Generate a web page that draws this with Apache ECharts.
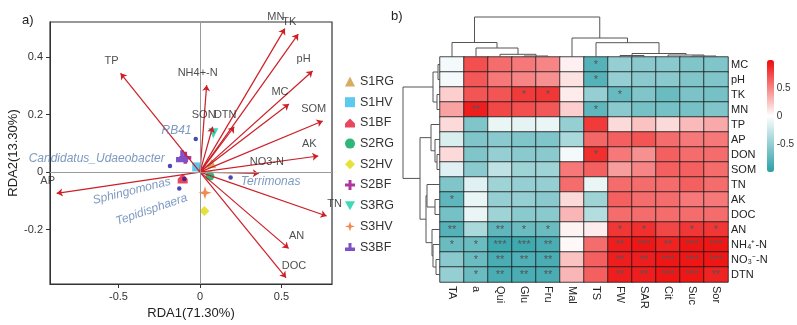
<!DOCTYPE html>
<html>
<head>
<meta charset="utf-8">
<script src="https://cdn.jsdelivr.net/npm/echarts@6/dist/echarts.min.js"></script>
<style>
  html, body { margin: 0; padding: 0; background: #fff; }
  #main { width: 797px; height: 325px; }
</style>
</head>
<body>
<div id="main"></div>
<script>
// ---- a) RDA biplot data ----
const envNames = ['TP', 'NH4+-N', 'SON', 'DTN', 'MN', 'TK', 'pH', 'MC', 'SOM', 'AK', 'NO3-N', 'TN', 'AN', 'DOC', 'AP'];
const envX = [-0.487, 0.041, 0.078, 0.21, 0.521, 0.603, 0.691, 0.546, 0.753, 0.726, 0.361, 0.777, 0.544, 0.528, -0.879];
const envY = [0.344, 0.303, 0.158, 0.158, 0.50, 0.481, 0.352, 0.237, 0.178, 0.056, -0.005, -0.153, -0.266, -0.368, -0.074];

const taxaNames = ['RB41', 'Candidatus_Udaeobacter', 'Sphingomonas', 'Tepidisphaera', 'Terrimonas'];
const taxaX = [-0.026, -0.184, -0.096, -0.127, 0.188];
const taxaY = [0.115, 0.021, -0.024, -0.057, -0.019];

const sampleNames = ['S1RG', 'S1HV', 'S1BF', 'S2RG', 'S2HV', 'S2BF', 'S3RG', 'S3HV', 'S3BF'];
const sampleX = [0.072, -0.02, -0.106, 0.061, 0.027, -0.09, 0.082, 0.031, -0.11];
const sampleY = [0.030, 0.018, -0.022, -0.014, -0.136, 0.050, 0.135, -0.072, 0.055];

// ---- b) correlation heatmap data ----
const hmCols = ['TA', 'a', 'Qui', 'Glu', 'Fru', 'Mal', 'TS', 'FW', 'SAR', 'Cit', 'Suc', 'Sor'];
const hmRows = ['MC', 'pH', 'TK', 'MN', 'TP', 'AP', 'DON', 'SOM', 'TN', 'AK', 'DOC', 'AN', 'NH\u2084\u207A-N', 'NO\u2083\u207B-N', 'DTN'];
const hmValues = [
  [-0.05, 0.72, 0.60, 0.55, 0.50, 0.06, -0.80, -0.50, -0.55, -0.55, -0.60, -0.60],
  [-0.05, 0.68, 0.55, 0.50, 0.45, 0.12, -0.80, -0.50, -0.55, -0.55, -0.60, -0.60],
  [0.20, 0.70, 0.70, 0.80, 0.82, 0.08, -0.50, -0.72, -0.60, -0.70, -0.62, -0.65],
  [0.38, 0.92, 0.75, 0.72, 0.68, 0.20, -0.75, -0.55, -0.65, -0.65, -0.65, -0.60],
  [0.15, -0.60, -0.10, -0.12, -0.10, -0.50, 0.80, 0.15, 0.25, 0.15, 0.28, 0.35],
  [-0.18, -0.60, -0.55, -0.60, -0.60, -0.40, 0.62, 0.65, 0.70, 0.60, 0.55, 0.55],
  [0.15, -0.60, -0.50, -0.55, -0.55, -0.05, 0.85, 0.55, 0.45, 0.65, 0.60, 0.60],
  [-0.15, -0.55, -0.30, -0.45, -0.45, 0.55, 0.65, 0.40, 0.50, 0.65, 0.65, 0.60],
  [-0.60, -0.15, -0.45, -0.50, -0.50, 0.60, -0.10, 0.60, 0.60, 0.60, 0.65, 0.60],
  [-0.75, -0.10, -0.50, -0.50, -0.55, 0.15, -0.45, 0.65, 0.60, 0.60, 0.55, 0.55],
  [-0.65, -0.10, -0.45, -0.55, -0.55, 0.30, -0.35, 0.60, 0.60, 0.60, 0.60, 0.60],
  [-0.80, -0.40, -0.75, -0.70, -0.70, 0.05, 0.08, 0.82, 0.85, 0.75, 0.82, 0.82],
  [-0.70, -0.70, -0.90, -0.90, -0.85, 0.03, 0.60, 0.92, 0.95, 0.90, 0.95, 0.95],
  [-0.55, -0.70, -0.85, -0.82, -0.85, 0.25, 0.65, 0.92, 0.92, 0.95, 0.95, 0.95],
  [-0.50, -0.70, -0.85, -0.85, -0.85, 0.30, 0.65, 0.92, 0.92, 0.95, 0.95, 0.90]
];
const hmStars = [
  ['', '', '', '', '', '', '*', '', '', '', '', ''],
  ['', '', '', '', '', '', '*', '', '', '', '', ''],
  ['', '', '', '*', '*', '', '', '*', '', '', '', ''],
  ['', '**', '', '', '', '', '*', '', '', '', '', ''],
  ['', '', '', '', '', '', '', '', '', '', '', ''],
  ['', '', '', '', '', '', '', '', '', '', '', ''],
  ['', '', '', '', '', '', '*', '', '', '', '', ''],
  ['', '', '', '', '', '', '', '', '', '', '', ''],
  ['', '', '', '', '', '', '', '', '', '', '', ''],
  ['*', '', '', '', '', '', '', '', '', '', '', ''],
  ['', '', '', '', '', '', '', '', '', '', '', ''],
  ['**', '', '**', '*', '*', '', '', '*', '*', '', '*', '*'],
  ['*', '*', '***', '***', '**', '', '', '**', '***', '**', '***', '***'],
  ['', '*', '**', '**', '**', '', '', '**', '**', '***', '***', '***'],
  ['', '*', '**', '**', '**', '', '', '**', '**', '***', '***', '**']
];

// dendrograms: [height, left, right], leaves are indexes
const colTree = [40, [14.5, 0, [9, 1, [2.7, 2, [1, 3, 4]]]],
                     [19, 5, [14.3, 6, [3.5, [1.5, 7, 8], [2, 9, [1, 10, 11]]]]]];
const rowTree = [37, [7, [2, 0, 1], [3, 2, 3]],
                     [20, [9, 4, [5, 5, [3, 6, 7]]],
                          [14, [13, 8, [5, 9, 10]], [8, 11, [7, 12, [4, 13, 14]]]]]];

const FONT = 'Liberation Sans, Arial, Helvetica, sans-serif';

const sampleStyle = {
  S1RG: { color: '#d6ad62', symbol: 'triangle', size: 9 },
  S1HV: { color: '#5ccaee', symbol: 'rect', size: 9 },
  S1BF: { color: '#e8485e', symbol: 'path://M5,0 L10,5 L10,9 L0,9 L0,5 Z', size: 10 },
  S2RG: { color: '#2fb67a', symbol: 'circle', size: 9 },
  S2HV: { color: '#e6e23a', symbol: 'diamond', size: 10 },
  S2BF: { color: '#b0369f', symbol: 'path://M3.5,0 H6.5 V3.5 H10 V6.5 H6.5 V10 H3.5 V6.5 H0 V3.5 H3.5 Z', size: 12 },
  S3RG: { color: '#3fd8b8', symbol: 'path://M0,0 L10,0 L5,9 Z', size: 10 },
  S3HV: { color: '#f5894e', symbol: 'path://M5,0 L6.2,3.8 L10,5 L6.2,6.2 L5,10 L3.8,6.2 L0,5 L3.8,3.8 Z', size: 13 },
  S3BF: { color: '#7c52c4', symbol: 'path://M3.5,0 H6.5 V4.5 H10 V8 H0 V4.5 H3.5 Z', size: 12 }
};

const taxaLabel = {
  RB41: { position: 'left', distance: 2, offset: [0, -8] },
  Candidatus_Udaeobacter: { position: 'left', distance: 3, offset: [0, -7] },
  Sphingomonas: { position: 'inside', rotate: 14, offset: [-54, -1] },
  Tepidisphaera: { position: 'inside', rotate: 19, offset: [-33, 11] },
  Terrimonas: { position: 'right', distance: 8, offset: [0, 4] }
};

function dendroLines(tree, horizontal) {
  const out = [];
  (function walk(node) {
    if (typeof node === 'number') return { p: node + 0.5, h: 0 };
    const a = walk(node[1]);
    const b = walk(node[2]);
    const h = node[0];
    const pts = [[a.p, a.h], [a.p, h], [b.p, h], [b.p, b.h]];
    out.push({ coords: horizontal ? pts.map(q => [q[1], q[0]]) : pts });
    return { p: (a.p + b.p) / 2, h: h };
  })(tree);
  return out;
}

const heatData = [];
hmRows.forEach((r, ri) => {
  hmCols.forEach((c, ci) => {
    heatData.push([ci, ri, hmValues[ri][ci]]);
  });
});

const chart = echarts.init(document.getElementById('main'));

const sampleSeries = sampleNames.map((n, i) => ({
  name: n,
  type: 'scatter',
  xAxisIndex: 0,
  yAxisIndex: 0,
  symbol: sampleStyle[n].symbol,
  symbolSize: sampleStyle[n].size,
  itemStyle: { color: sampleStyle[n].color, opacity: 1 },
  data: [[sampleX[i], sampleY[i]]],
  z: 3,
  silent: true
}));

const option = {
  animation: false,
  textStyle: { fontFamily: FONT },
  title: [
    { text: 'a)', left: 17, top: 9, textStyle: { fontSize: 13, fontWeight: 'normal', color: '#222', fontFamily: FONT } },
    { text: 'b)', left: 386, top: 5, textStyle: { fontSize: 13, fontWeight: 'normal', color: '#222', fontFamily: FONT } }
  ],
  legend: {
    data: sampleNames,
    orient: 'vertical',
    left: 345,
    top: 75,
    itemWidth: 10,
    itemHeight: 10,
    itemGap: 7.7,
    padding: 0,
    textStyle: { fontSize: 12.5, color: '#333', fontFamily: FONT }
  },
  grid: [
    { left: 50, top: 22, width: 282, height: 262, show: true, borderColor: '#333', borderWidth: 1.2, backgroundColor: 'transparent' },
    { left: 440, top: 57, width: 288, height: 225 },
    { left: 440, top: 14, width: 288, height: 43 },
    { left: 403, top: 57, width: 37, height: 225 },
    { left: 767, top: 60, width: 7, height: 112 }
  ],
  xAxis: [
    {
      gridIndex: 0, type: 'value', min: -0.92, max: 0.81,
      name: 'RDA1(71.30%)', nameLocation: 'middle', nameGap: 21,
      nameTextStyle: { fontSize: 13, color: '#222' },
      axisLine: { show: true, onZero: false, lineStyle: { color: '#333' } },
      axisTick: { show: true, length: 4, customValues: [-0.5, 0, 0.5], lineStyle: { color: '#333' } },
      axisLabel: { customValues: [-0.5, 0, 0.5], fontSize: 11, color: '#333', margin: 7, formatter: v => String(v) },
      splitLine: { show: false }
    },
    {
      gridIndex: 1, type: 'category', data: hmCols, position: 'bottom',
      axisLine: { show: false }, axisTick: { show: false },
      axisLabel: { rotate: -90, fontSize: 11, color: '#222', margin: 4 },
      splitArea: { show: false }
    },
    { gridIndex: 2, type: 'value', min: 0, max: 12, show: false },
    { gridIndex: 3, type: 'value', min: 0, max: 37, inverse: true, show: false },
    { gridIndex: 4, type: 'value', min: 0, max: 1, show: false }
  ],
  yAxis: [
    {
      gridIndex: 0, type: 'value', min: -0.39, max: 0.523,
      name: 'RDA2(13.30%)', nameLocation: 'middle', nameGap: 29,
      nameTextStyle: { fontSize: 13, color: '#222' },
      axisLine: { show: true, onZero: false, lineStyle: { color: '#333' } },
      axisTick: { show: true, length: 4, customValues: [-0.2, 0, 0.2, 0.4], lineStyle: { color: '#333' } },
      axisLabel: { customValues: [-0.2, 0, 0.2, 0.4], fontSize: 11, color: '#333', margin: 7, formatter: v => String(v) },
      splitLine: { show: false }
    },
    {
      gridIndex: 1, type: 'category', data: hmRows, inverse: true, position: 'right',
      axisLine: { show: false }, axisTick: { show: false },
      axisLabel: { fontSize: 11, color: '#222', margin: 3 }
    },
    { gridIndex: 2, type: 'value', min: 0, max: 43, show: false },
    { gridIndex: 3, type: 'value', min: 0, max: 15, inverse: true, show: false },
    {
      gridIndex: 4, type: 'value', min: -1, max: 1, interval: 0.5, position: 'right',
      axisLine: { show: false }, axisTick: { show: false }, splitLine: { show: false },
      axisLabel: { fontSize: 10, color: '#333', margin: 4, formatter: v => (Math.abs(v) === 1 ? '' : String(v)) }
    }
  ],
  visualMap: {
    type: 'continuous',
    min: -1, max: 1,
    seriesIndex: 0,
    calculable: false,
    left: 767, top: 60,
    itemWidth: 7, itemHeight: 112,
    padding: 0,
    inRange: { color: ['#2a9fa7', '#ffffff', '#ee0a0a'] }
  },
  series: [
    {
      type: 'heatmap',
      xAxisIndex: 1, yAxisIndex: 1,
      data: heatData,
      itemStyle: { borderColor: '#1a1a1a', borderWidth: 0.8 },
      label: {
        show: true, color: '#555', fontSize: 11,
        formatter: p => hmStars[p.value[1]][p.value[0]]
      },
      emphasis: { disabled: true },
      silent: true
    },
    {
      type: 'lines', coordinateSystem: 'cartesian2d', xAxisIndex: 2, yAxisIndex: 2,
      polyline: true, silent: true,
      lineStyle: { color: '#555', width: 1, opacity: 1 },
      data: dendroLines(colTree, false)
    },
    {
      type: 'lines', coordinateSystem: 'cartesian2d', xAxisIndex: 3, yAxisIndex: 3,
      polyline: true, silent: true,
      lineStyle: { color: '#555', width: 1, opacity: 1 },
      data: dendroLines(rowTree, true)
    },
    {
      type: 'scatter', xAxisIndex: 4, yAxisIndex: 4, data: [], silent: true
    },
    {
      type: 'line', xAxisIndex: 0, yAxisIndex: 0, data: [], silent: true, z: 1,
      markLine: {
        silent: true, symbol: 'none', label: { show: false },
        lineStyle: { color: '#9a9a9a', width: 1, type: 'solid' },
        data: [{ xAxis: 0 }, { yAxis: 0 }]
      }
    },
    ...sampleSeries,
    {
      type: 'lines', coordinateSystem: 'cartesian2d', xAxisIndex: 0, yAxisIndex: 0,
      silent: true, z: 4,
      symbol: ['none', 'arrow'], symbolSize: [0, 6],
      lineStyle: { color: '#cc1f26', width: 1.2, opacity: 1 },
      data: envNames.map((n, i) => ({ coords: [[0, 0], [envX[i], envY[i]]] }))
    },
    {
      type: 'scatter', xAxisIndex: 0, yAxisIndex: 0, silent: true, z: 5,
      symbolSize: 1, itemStyle: { color: 'rgba(0,0,0,0)' },
      data: envNames.map((n, i) => ({
        value: [envX[i], envY[i]],
        name: n,
        label: {
          show: true, position: 'inside',
          offset: [(envY[i] > 0 || envX[i] < 0) ? -9 : 8, -12],
          formatter: n, fontSize: 11, color: '#222'
        }
      }))
    },
    {
      type: 'scatter', xAxisIndex: 0, yAxisIndex: 0, silent: true, z: 6,
      symbolSize: 4.5, itemStyle: { color: '#1c1c9c' },
      data: taxaNames.map((n, i) => ({
        value: [taxaX[i], taxaY[i]],
        name: n,
        label: Object.assign({
          show: true, formatter: n, fontSize: 12, fontStyle: 'italic', color: '#5c7fb2'
        }, taxaLabel[n])
      }))
    }
  ]
};

chart.setOption(option);
</script>
</body>
</html>
